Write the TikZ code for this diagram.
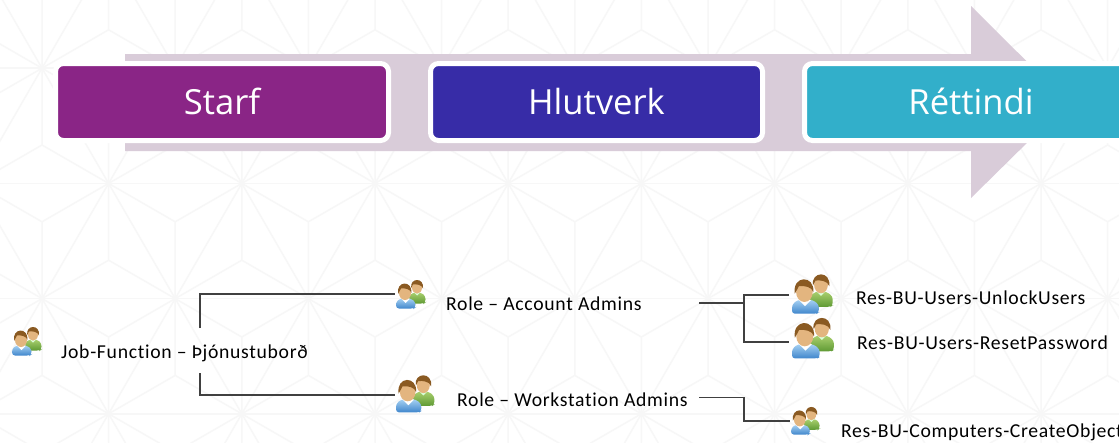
\documentclass[tikz,border=0pt]{standalone}
\usepackage{fontspec}
\setmainfont[Ligatures=NoCommon,LetterSpace=3.5]{Carlito}
\newfontfamily\headfont{Open Sans}
\definecolor{arrowc}{HTML}{D9CCD9}
\definecolor{linec}{HTML}{404040}
\definecolor{bgline}{HTML}{F7F7F7}
\definecolor{hairc}{HTML}{8A5A22}
\definecolor{skinc}{HTML}{E3B57F}
\definecolor{bluetop}{HTML}{A5D0F2}
\definecolor{bluebot}{HTML}{3F86CC}
\definecolor{greentop}{HTML}{A9CF6E}
\definecolor{greenbot}{HTML}{5F9A34}
\tikzset{
  x=1pt,y=-1pt,
  headbox/.style={draw=white,line width=5pt,rounded corners=8pt},
  headtext/.style={font=\headfont\fontsize{34.6}{36}\selectfont,text=white,anchor=base,inner sep=0pt},
  lbl/.style={font=\fontsize{19.7}{22}\selectfont,text=black,anchor=base west,inner sep=0pt},
  conn/.style={draw=linec,line width=2pt},
  thinconn/.style={draw=linec,line width=1.4pt},
  bg/.style={draw=bgline,line width=1.5pt},
  pics/people/.style={code={
    % back person
    \path[top color=greentop,bottom color=greenbot,rounded corners=3pt]
      (13,24.5)--(13,17)--(17,13.5)--(25,13.5)--(29.5,17)--(29.5,23.5)--(28,24.5)--cycle;
    \fill[white!85!green] (18,13.5)--(21,16.5)--(24,13.5)--cycle;
    \fill[skinc] (21,8.5) ellipse (5 and 6.2);
    \fill[hairc] (15.2,9) .. controls (13.5,-1.5) and (28.5,-2) .. (27,9.5) .. controls (26,5.5) and (20,5) .. (17,5.5) .. controls (16,7) and (16,8) .. (15.2,9) -- cycle;
    % front person
    \path[top color=bluetop,bottom color=bluebot,rounded corners=3pt]
      (0,29.5)--(0,23)--(4,19.5)--(15,19.5)--(19.5,23)--(19.5,28.5)--(18,29.5)--cycle;
    \fill[white] (5,19.5)--(9.5,24)--(14,19.5)--cycle;
    \fill[skinc] (9,14) ellipse (6 and 7);
    \fill[hairc] (2,15) .. controls (0,1.5) and (16.5,1) .. (15.5,14) .. controls (14.5,10) and (9,9) .. (5,9.5) .. controls (4,11) and (3.5,13) .. (2,15) -- cycle;
  }}
}
\begin{document}
\begin{tikzpicture}
\clip (0,0) rectangle (1119,442);
\useasboundingbox (0,0) rectangle (1119,442);
\fill[white] (0,0) rectangle (1119,442);
% background pattern
\foreach \r in {-1,...,4}{
  \pgfmathsetmacro{\yy}{-47+115.2*\r}
  \draw[bg] (-10,\yy) -- (1130,\yy);
  \pgfmathsetmacro{\off}{mod(\r+1,2)==0 ? 42 : 108.6}
  \foreach \c in {-1,...,9}{
    \pgfmathsetmacro{\xx}{\off+133.2*\c}
    \pgfmathsetmacro{\xl}{\xx-66.6}
    \pgfmathsetmacro{\xr}{\xx+66.6}
    \pgfmathsetmacro{\yn}{\yy+115.2}
    \pgfmathsetmacro{\yc}{\yy+76.8}
    \pgfmathsetmacro{\yd}{\yy+38.4}
    \draw[bg] (\xx,\yy) -- (\xl,\yn) (\xx,\yy) -- (\xr,\yn);
    \draw[bg] (\xx,\yy) -- (\xx,\yc) -- (\xl,\yn) (\xx,\yc) -- (\xr,\yn);
    \draw[bg] (\xr,\yn) -- (\xr,\yd) -- (\xx,\yy) (\xr,\yd) -- (\xx+133.2,\yy);
  }
}
% big arrow
\fill[arrowc] (125,54) -- (971,54) -- (971,6) -- (1068,102.5) -- (971,198) -- (971,151) -- (125,151) -- cycle;
% header boxes
\draw[headbox,fill={rgb,255:red,138;green,37;blue,134}] (55.5,63.5) rectangle (388.5,140.5);
\draw[headbox,fill={rgb,255:red,55;green,44;blue,167}] (430.5,63.5) rectangle (762.5,140.5);
\draw[headbox,fill={rgb,255:red,50;green,175;blue,202}] (804.5,63.5) rectangle (1140,140.5);
\node[headtext] (starf) at (222,114.5) {Starf};
\node[headtext] (hlut) at (596.5,114.5) {Hlutverk};
\node[headtext] (rett) at (971,114.5) {Réttindi};
% labels
\node[lbl] (job) at (61,358.5) {Job-Function – Þjónustuborð};
\node[lbl] (acc) at (446,310.5) {Role – Account Admins};
\node[lbl] (wks) at (457,406.5) {Role – Workstation Admins};
\node[lbl] (unl) at (856,304.5) {Res-BU-Users-UnlockUsers};
\node[lbl] (rst) at (857,349.5) {Res-BU-Users-ResetPassword};
\node[lbl] (crt) at (841,437.5) {Res-BU-Computers-CreateObject};
% icons
\pic[scale=1.0] at (12,326) {people};
\pic[scale=1.0] at (396,279) {people};
\pic[scale=1.3] at (396,374) {people};
\pic[scale=1.38] at (792,273) {people};
\pic[scale=1.42] at (792,316.5) {people};
\pic[scale=0.97] at (791,406) {people};
% connector anchors
\coordinate (iconB) at (395,294);
\coordinate (iconC) at (395,394.5);
\coordinate (iconD) at (789,294.5);
\coordinate (iconE) at (789,341.5);
\coordinate (iconF) at (790,421);
\coordinate (jobA) at (200,328);
\coordinate (jobB) at (200,373);
\coordinate (accOut) at (699,302.7);
\coordinate (wksOut) at (699,397.7);
\coordinate (splitA) at (743.5,302.7);
\coordinate (splitB) at (743.5,397.7);
% connectors
\draw[conn] (jobA) |- (iconB);
\draw[conn] (jobB) |- (iconC);
\draw[conn] (accOut) -- (splitA);
\draw[conn] (iconD) -| (splitA) |- (iconE);
\draw[thinconn] (wksOut) -- (splitB);
\draw[conn] ([yshift=0.7pt]splitB) |- (iconF);
\end{tikzpicture}
\end{document}
